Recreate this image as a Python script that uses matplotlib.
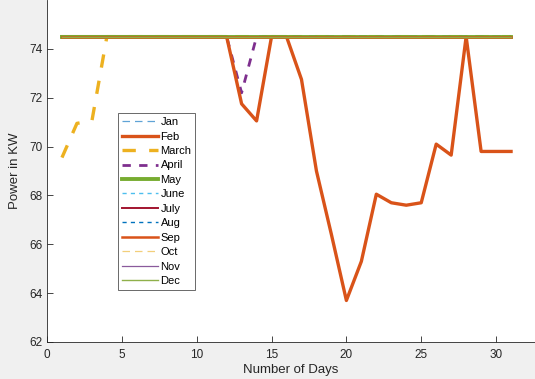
import numpy as np
import matplotlib
matplotlib.use('Agg')
import matplotlib.pyplot as plt

plt.rcParams['font.family'] = ['Liberation Sans', 'DejaVu Sans']

# Daily power per month (KW); most months sit at the 74.5 cap all month
days = np.arange(1, 32)
cap = 74.5

feb = [74.5, 74.5, 74.5, 74.5, 74.5, 74.5, 74.5, 74.5, 74.5, 74.5, 74.5, 74.5,
       71.75, 71.05, 74.5, 74.5, 72.75, 69.0, 66.4, 63.7, 65.3, 68.05, 67.7,
       67.6, 67.7, 70.1, 69.65, 74.5, 69.8, 69.8, 69.8]
march = [69.55, 70.95, 71.05] + [74.5] * 28
april = [74.5] * 12 + [72.2] + [74.5] * 18

months = ['Jan', 'Feb', 'March', 'April', 'May', 'June', 'July', 'Aug',
          'Sep', 'Oct', 'Nov', 'Dec']
values = {
    'Jan': [cap] * 31, 'Feb': feb, 'March': march, 'April': april,
    'May': [cap] * 31, 'June': [cap] * 31, 'July': [cap] * 31,
    'Aug': [cap] * 31, 'Sep': [cap] * 31, 'Oct': [cap] * 31,
    'Nov': [cap] * 31, 'Dec': [cap] * 31,
}

# colour, line width, line style
styles = {
    'Jan': ('#5fa3d6', 0.9, (0, (6, 4))),
    'Feb': ('#d95319', 2.4, '-'),
    'March': ('#edb120', 2.4, (0, (4, 4))),
    'April': ('#7e2f8e', 2.0, (0, (3, 3))),
    'May': ('#77ac30', 2.8, '-'),
    'June': ('#4dbeee', 1.0, (0, (3, 3))),
    'July': ('#a2142f', 1.4, '-'),
    'Aug': ('#0072bd', 1.0, (0, (3, 3))),
    'Sep': ('#d95319', 1.8, '-'),
    'Oct': ('#f2cf7a', 0.9, (0, (6, 4))),
    'Nov': ('#8a5a9c', 0.9, '-'),
    'Dec': ('#8fb04a', 1.0, '-'),
}
# lines that sit under the thick lines along the cap in the original
hidden = ['Jan', 'March', 'April', 'June', 'July', 'Aug', 'Oct', 'Nov']

fig = plt.figure(figsize=(5.35, 3.79), dpi=100, facecolor='#f0f0f0')
ax = fig.add_axes([47 / 535, 37 / 379, 1 - 47 / 535, 342 / 379])
ax.set_facecolor('white')

for m in months:
    c, lw, ls = styles[m]
    z = 1.5 if m in hidden else 2
    ax.plot(days, values[m], color=c, lw=lw, linestyle=ls, label=m, zorder=z)

ax.set_xlim(0, 32.6)
ax.set_ylim(62, 76)
ax.set_xticks(np.arange(0, 31, 5))
ax.set_yticks(np.arange(62, 75, 2))
ax.spines['top'].set_visible(False)
ax.spines['right'].set_visible(False)
for s in ('left', 'bottom'):
    ax.spines[s].set_color('#262626')
    ax.spines[s].set_linewidth(0.6)
ax.tick_params(direction='in', length=4, width=0.6, colors='#262626',
               labelsize=8.5)
ax.tick_params(axis='x', pad=5)
ax.tick_params(axis='y', pad=3)
ax.set_xlabel('Number of Days', fontsize=9.5, color='#262626', labelpad=2)
ax.set_ylabel('Power in KW', fontsize=9.5, color='#262626', labelpad=6)

leg = ax.legend(loc='upper left', bbox_to_anchor=(0.145, 0.669), fontsize=8,
                frameon=True, fancybox=False, handlelength=3.3,
                handletextpad=0.2, labelspacing=0.4, borderpad=0.35,
                borderaxespad=0)
leg.get_frame().set_edgecolor('#262626')
leg.get_frame().set_linewidth(0.6)

fig.savefig('out.png', dpi=100, facecolor=fig.get_facecolor())
